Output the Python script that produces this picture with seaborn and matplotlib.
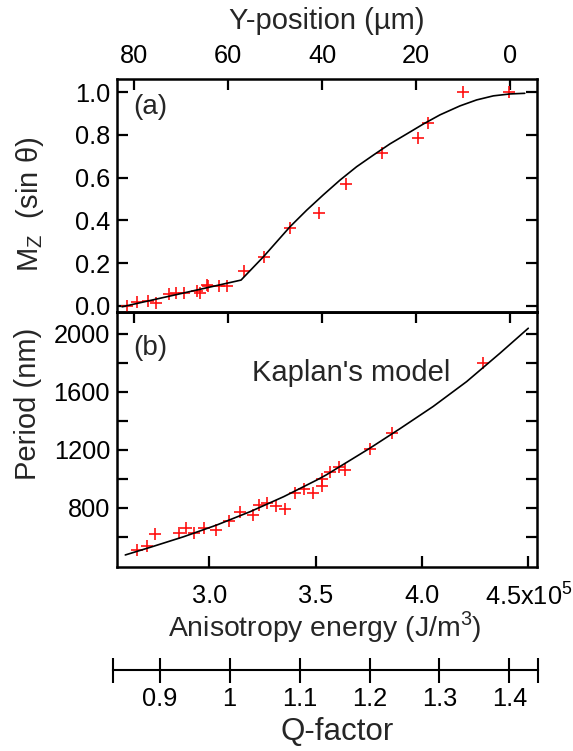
import matplotlib
matplotlib.use("Agg")
import matplotlib.pyplot as plt
import seaborn as sns
import pandas as pd

# ---------------- data ----------------
# Panel (a): M_z vs Y-position (um)
ypos_pts = [81.55, 79.4, 77.15, 75.3, 72.7, 71.06, 69.5, 66.66, 66.1, 64.5, 64.3,
            62.04, 60.3, 56.6, 52.5, 46.8, 40.8, 34.95, 27.36, 19.6, 17.4, 10.0, 0.2]
mz_pts = [-0.001, 0.016, 0.023, 0.014, 0.055, 0.058, 0.061, 0.070, 0.061, 0.097, 0.092,
          0.094, 0.094, 0.163, 0.23, 0.365, 0.433, 0.570, 0.7155, 0.787, 0.856, 1.0, 1.0]
ypos_fit = [82.6, 57.3, 52.5, 46.87, 43.3, 39.8, 36.2, 32.7, 29.1, 25.6, 22.0, 18.5,
            14.95, 10.7, 7.15, 3.6, 0.06, -3.1]
mz_fit = [-0.005, 0.120, 0.23, 0.370, 0.448, 0.519, 0.589, 0.651, 0.706, 0.758, 0.805,
          0.851, 0.894, 0.936, 0.964, 0.983, 0.992, 0.995]

# Panel (b): Period (nm) vs anisotropy energy (x1e5 J/m^3)
energy_pts = [2.661, 2.707, 2.746, 2.856, 2.89, 2.93, 2.976, 3.033, 3.091, 3.146, 3.205,
              3.232, 3.271, 3.315, 3.357, 3.401, 3.444, 3.488, 3.53, 3.53, 3.569, 3.608,
              3.637, 3.755, 3.86, 4.288]
period_pts = [510, 538, 621, 626, 660, 626, 660, 648, 712, 770, 752, 821, 837, 816, 791,
              901, 929, 901, 952, 998, 1046, 1085, 1062, 1205, 1320, 1802]
energy_fit = [2.605, 2.723, 2.880, 3.036, 3.193, 3.350, 3.506, 3.55, 3.755, 3.897, 4.053,
              4.210, 4.367, 4.50]
period_fit = [476, 529, 602, 683, 775, 878, 993, 1028, 1212, 1347, 1500, 1671, 1867, 2039]

# ticks
ypos_ticks = [80, 60, 40, 20, 0]
mz_ticks = [0.0, 0.2, 0.4, 0.6, 0.8, 1.0]
mz_ticklabels = ["0.0", "0.2", "0.4", "0.6", "0.8", "1.0"]
period_ticks = [800, 1200, 1600, 2000]
period_minor = [600, 1000, 1400, 1800]
energy_ticks = [3.0, 3.5, 4.0, 4.5]
energy_ticklabels = ["3.0", "3.5", "4.0", r"4.5x10$^\mathregular{5}$"]
q_ticks = [0.8327, 0.9, 1.0, 1.1, 1.2, 1.3, 1.4, 1.441]
q_ticklabels = ["", "0.9", "1", "1.1", "1.2", "1.3", "1.4", ""]

df_a = pd.DataFrame({"ypos": ypos_pts, "mz": mz_pts})
df_a_fit = pd.DataFrame({"ypos": ypos_fit, "mz": mz_fit})
df_b = pd.DataFrame({"energy": energy_pts, "period": period_pts})
df_b_fit = pd.DataFrame({"energy": energy_fit, "period": period_fit})

# ---------------- style ----------------
sns.set_theme(style="ticks")
plt.rcParams["font.family"] = ["Liberation Sans", "DejaVu Sans"]
plt.rcParams["mathtext.fontset"] = "custom"
plt.rcParams["mathtext.rm"] = "Liberation Sans"
plt.rcParams["axes.linewidth"] = 1.8
plt.rcParams["axes.edgecolor"] = "black"
plt.rcParams["xtick.color"] = "black"
plt.rcParams["ytick.color"] = "black"

TICK_FS = 18.3
LABEL_FS = 21
TL = 8.0
TW = 1.6
RED = "#ff1010"

fig = plt.figure(figsize=(5.73, 7.51), dpi=100)
ax_a = fig.add_axes([117 / 573, 1 - 312 / 751, 420 / 573, 233 / 751])
ax_b = fig.add_axes([117 / 573, 1 - 567 / 751, 420 / 573, 255 / 751])
ax_a.set_zorder(3)

# ---------- panel (a) ----------
sns.scatterplot(data=df_a, x="ypos", y="mz", marker="+", color=RED, s=85,
                linewidth=1.2, ax=ax_a, zorder=2)
sns.lineplot(data=df_a_fit, x="ypos", y="mz", color="black", lw=1.2, sort=False,
             ax=ax_a, zorder=3)
ax_a.set_xlim(83.7, -5.7)
ax_a.set_ylim(-0.0295, 1.062)
ax_a.set_xticks(ypos_ticks)
ax_a.set_yticks(mz_ticks)
ax_a.set_yticklabels(mz_ticklabels)
ax_a.tick_params(axis="x", top=True, labeltop=True, bottom=False, labelbottom=False,
                 direction="in", length=TL, width=TW, labelsize=TICK_FS, pad=8)
ax_a.tick_params(axis="y", left=True, right=True, direction="in", length=TL, width=TW,
                 labelsize=TICK_FS, pad=5)
sec = ax_a.secondary_xaxis("bottom", functions=(lambda v: v, lambda v: v))
sec.set_xticks(ypos_ticks)
sec.tick_params(axis="x", direction="out", length=TL, width=TW, labelbottom=False)
sec.spines["bottom"].set_linewidth(1.8)
ax_a.xaxis.set_label_position("top")
ax_a.set_xlabel("Y-position (µm)", fontsize=LABEL_FS)
ax_a.xaxis.label.set_va("center")
ax_a.xaxis.set_label_coords(0.5, (312 - 21) / 233)
ax_a.set_ylabel(r"M$_\mathregular{Z}$  (sin θ)", fontsize=LABEL_FS, va="center")
ax_a.yaxis.set_label_coords((30 - 117) / 420, (312 - 204) / 233)
ax_a.text((150 - 117) / 420, (312 - 107) / 233, "(a)", transform=ax_a.transAxes,
          fontsize=20, ha="center", va="center")

# ---------- panel (b) ----------
sns.scatterplot(data=df_b, x="energy", y="period", marker="+", color=RED, s=85,
                linewidth=1.2, ax=ax_b, zorder=2)
sns.lineplot(data=df_b_fit, x="energy", y="period", color="black", lw=1.2, sort=False,
             ax=ax_b, zorder=3)
ax_b.set_xlim(2.566, 4.541)
ax_b.set_ylim(393, 2151)
ax_b.set_xticks(energy_ticks)
ax_b.set_xticklabels(energy_ticklabels)
ax_b.set_yticks(period_ticks)
ax_b.set_yticks(period_minor, minor=True)
ax_b.tick_params(axis="x", direction="in", length=TL, width=TW, labelsize=TICK_FS, pad=12)
ax_b.tick_params(axis="y", which="both", left=True, right=True, direction="in",
                 length=TL, width=TW, labelsize=TICK_FS, pad=5)
ax_b.set_xlabel(r"Anisotropy energy (J/m$^\mathregular{3}$)", fontsize=20.4, va="center")
ax_b.xaxis.set_label_coords((325 - 117) / 420, (567 - 627) / 255)
ax_b.set_ylabel("Period (nm)", fontsize=LABEL_FS, va="center")
ax_b.yaxis.set_label_coords((28 - 117) / 420, (567 - 404) / 255)
ax_b.text((150 - 117) / 420, (567 - 348) / 255, "(b)", transform=ax_b.transAxes,
          fontsize=20, ha="center", va="center")
ax_b.text(3.666, 1731, "Kaplan's model", fontsize=LABEL_FS, ha="center", va="center")

# ---------- Q-factor axis ----------
ax_q = fig.add_axes([112.7 / 573, 1 - 670 / 751, 425.3 / 573, 0.0001])
ax_q.patch.set_alpha(0)
for side in ["top", "left", "right"]:
    ax_q.spines[side].set_visible(False)
ax_q.spines["bottom"].set_linewidth(1.5)
ax_q.set_xlim(q_ticks[0], q_ticks[-1])
ax_q.set_yticks([])
ax_q.set_xticks(q_ticks)
ax_q.set_xticklabels(q_ticklabels)
ax_q.tick_params(axis="x", direction="inout", length=18, width=1.5, labelsize=TICK_FS, pad=3)
ax_q.set_xlabel("Q-factor", fontsize=22.5, va="center")
ax_q.xaxis.set_label_coords(336.7 / 573, 1 - 732 / 751, transform=fig.transFigure)

fig.savefig("out.png", dpi=100)
